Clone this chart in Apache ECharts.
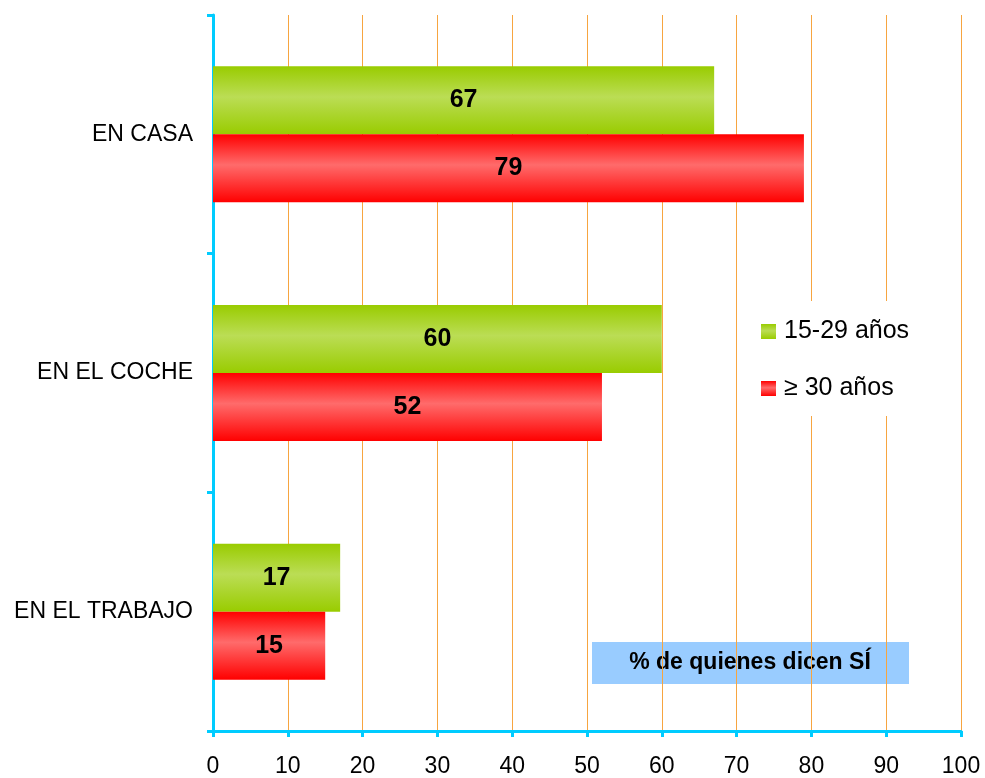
<!DOCTYPE html>
<html>
<head>
<meta charset="utf-8">
<script src="https://cdn.jsdelivr.net/npm/echarts@6/dist/echarts.min.js"></script>
<style>
  html, body { margin: 0; padding: 0; background: #fff; }
  #chart { width: 985px; height: 778px; }
</style>
</head>
<body>
<div id="chart"></div>
<script>
// datos
var categorias = ['EN CASA', 'EN EL COCHE', 'EN EL TRABAJO'];
var jovenes = [67, 60, 17];   // 15-29 años
var mayores = [79, 52, 15];   // >= 30 años
var nombres = ['15-29 años', '≥ 30 años'];

var fuente = '"Liberation Sans", Arial, sans-serif';

// degradado vertical como en el original
function degradado(borde, centro) {
  return new echarts.graphic.LinearGradient(0, 0, 0, 1, [
    { offset: 0, color: borde },
    { offset: 0.45, color: centro },
    { offset: 1, color: borde }
  ]);
}

var etiqueta = {
  show: true,
  position: 'inside',
  color: '#000',
  fontFamily: fuente,
  fontWeight: 'bold',
  fontSize: 25
};

var chart = echarts.init(document.getElementById('chart'));

var option = {
  animation: false,
  backgroundColor: '#fff',
  grid: { left: 213, right: 24, top: 15, bottom: 45 },
  xAxis: {
    type: 'value',
    min: 0,
    max: 100,
    interval: 10,
    axisLine: { show: true, lineStyle: { color: '#00CCFF', width: 3 } },
    axisTick: { show: true, length: 6, lineStyle: { color: '#00CCFF', width: 3 } },
    axisLabel: { color: '#000', fontFamily: fuente, fontSize: 23, margin: 24 },
    splitLine: { show: true, lineStyle: { color: '#F7A540', width: 1 } }
  },
  yAxis: {
    type: 'category',
    inverse: true,
    data: categorias,
    axisLine: { show: true, lineStyle: { color: '#00CCFF', width: 3 } },
    axisTick: { show: true, length: 6, lineStyle: { color: '#00CCFF', width: 3 } },
    axisLabel: { color: '#000', fontFamily: fuente, fontSize: 23, margin: 20 },
    splitLine: { show: false }
  },
  legend: {
    orient: 'vertical',
    left: 737,
    top: 301,
    padding: [18, 20, 15, 24],
    backgroundColor: '#fff',
    itemWidth: 15,
    itemHeight: 15,
    itemGap: 32,
    icon: 'rect',
    textStyle: { color: '#000', fontFamily: fuente, fontSize: 25, lineHeight: 24, padding: [0, 0, 0, 3] },
    data: nombres
  },
  graphic: [{
    type: 'group',
    left: 592,
    top: 642,
    children: [{
      type: 'rect',
      shape: { x: 0, y: 0, width: 317, height: 42 },
      style: { fill: '#99CCFF' }
    }, {
      type: 'text',
      x: 158,
      y: 21,
      style: {
        text: '% de quienes dicen SÍ',
        fill: '#000',
        font: 'bold 23px ' + fuente,
        align: 'center',
        verticalAlign: 'middle'
      }
    }]
  }],
  series: [{
    name: nombres[0],
    type: 'bar',
    data: jovenes,
    barGap: '0%',
    barCategoryGap: '43%',
    itemStyle: { color: degradado('#99CC00', '#BBDD55') },
    label: etiqueta
  }, {
    name: nombres[1],
    type: 'bar',
    data: mayores,
    itemStyle: { color: degradado('#FF0000', '#FF6B6B') },
    label: etiqueta
  }]
};

chart.setOption(option);
</script>
</body>
</html>
